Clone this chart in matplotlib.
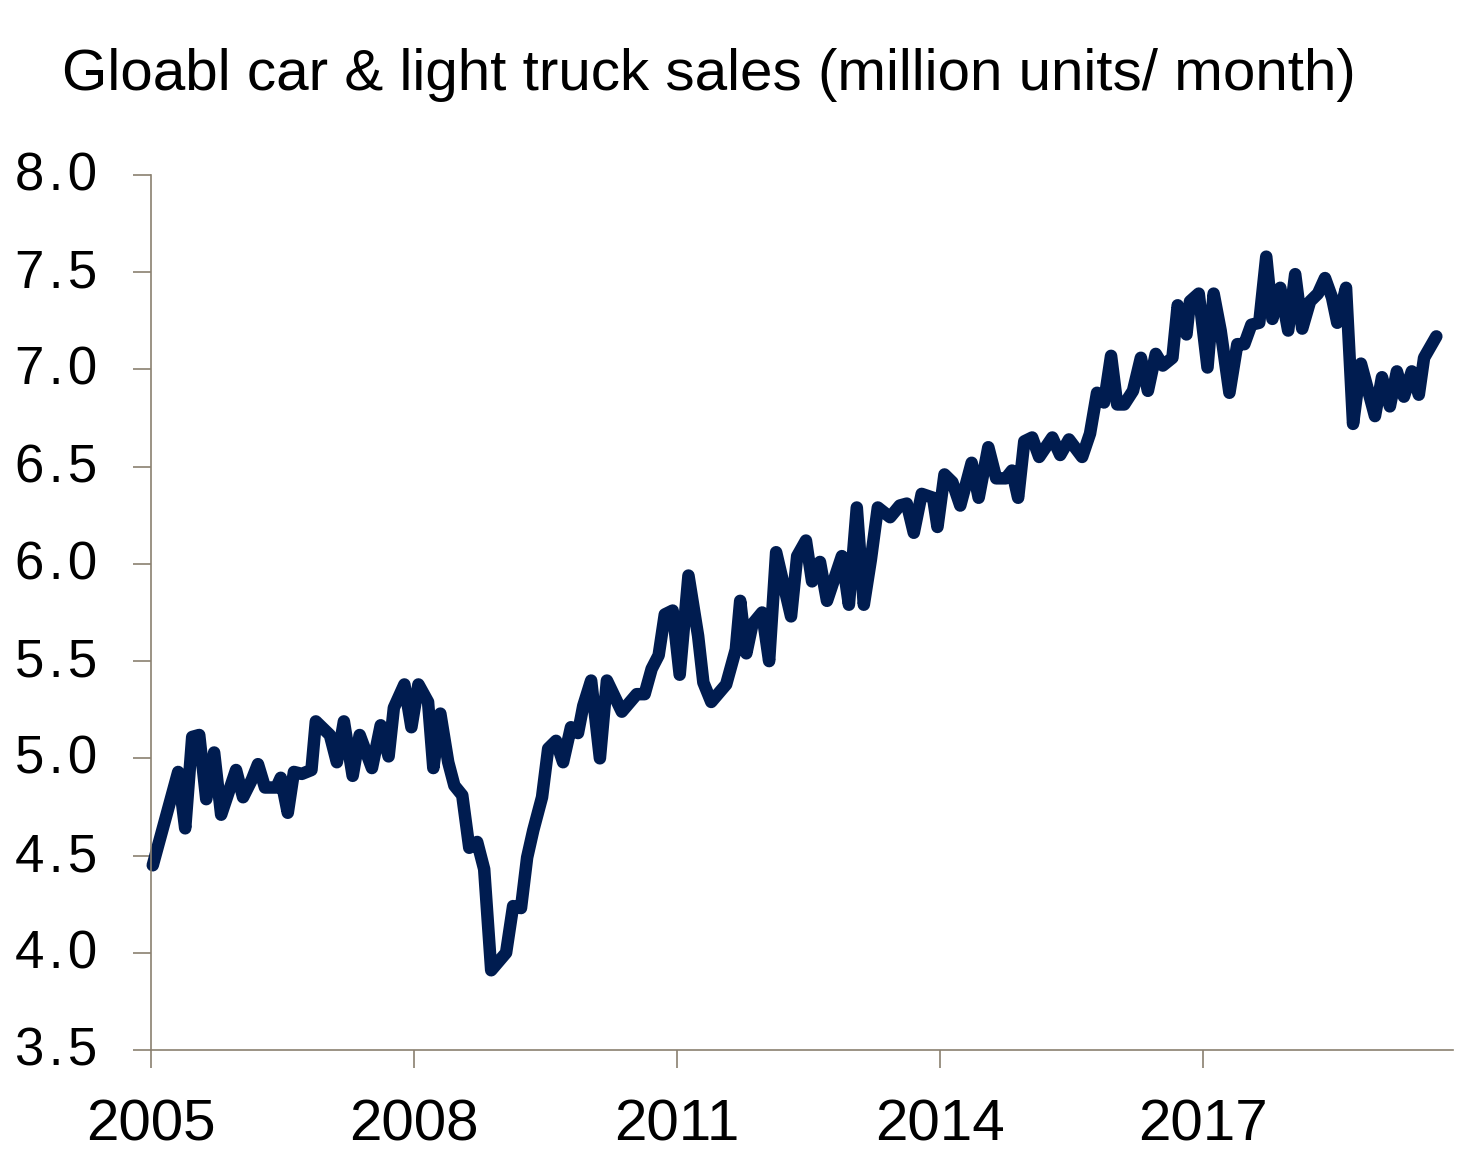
import matplotlib
matplotlib.use("Agg")
from matplotlib import pyplot as plt
from matplotlib.transforms import ScaledTranslation

plt.rcParams["font.family"] = ["Liberation Sans", "DejaVu Sans"]

# turning points of the monthly series (decimal year, million units/month)
years = [
    2005.02, 2005.31, 2005.39, 2005.47, 2005.55, 2005.63, 2005.72, 2005.80,
    2005.97, 2006.05, 2006.15, 2006.22, 2006.30, 2006.43, 2006.48, 2006.56,
    2006.63, 2006.72, 2006.83, 2006.88, 2007.04, 2007.12, 2007.20, 2007.30,
    2007.38, 2007.52, 2007.62, 2007.71, 2007.77, 2007.89, 2007.97, 2008.05,
    2008.16, 2008.22, 2008.30, 2008.39, 2008.46, 2008.55, 2008.63, 2008.72,
    2008.80, 2008.88, 2009.05, 2009.13, 2009.22, 2009.29, 2009.36, 2009.46,
    2009.53, 2009.62, 2009.70, 2009.79, 2009.87, 2009.93, 2010.02, 2010.12,
    2010.20, 2010.37, 2010.54, 2010.63, 2010.71, 2010.79, 2010.86, 2010.95,
    2011.03, 2011.13, 2011.24, 2011.30, 2011.39, 2011.56, 2011.67, 2011.72,
    2011.79, 2011.86, 2011.97, 2012.05, 2012.13, 2012.30, 2012.37, 2012.47,
    2012.54, 2012.63, 2012.71, 2012.88, 2012.96, 2013.05, 2013.13, 2013.21,
    2013.29, 2013.43, 2013.54, 2013.62, 2013.70, 2013.79, 2013.92, 2013.97,
    2014.05, 2014.14, 2014.23, 2014.36, 2014.44, 2014.55, 2014.64, 2014.75,
    2014.82, 2014.89, 2014.96, 2015.05, 2015.13, 2015.28, 2015.37, 2015.47,
    2015.62, 2015.71, 2015.79, 2015.87, 2015.95, 2016.02, 2016.10, 2016.20,
    2016.29, 2016.37, 2016.46, 2016.54, 2016.65, 2016.71, 2016.81, 2016.85,
    2016.95, 2017.05, 2017.12, 2017.20, 2017.30, 2017.39, 2017.47, 2017.55,
    2017.64, 2017.72, 2017.79, 2017.88, 2017.97, 2018.05, 2018.13, 2018.22,
    2018.31, 2018.39, 2018.47, 2018.53, 2018.63, 2018.71, 2018.80, 2018.96,
    2019.04, 2019.13, 2019.21, 2019.29, 2019.38, 2019.46, 2019.52, 2019.66,
]
sales = [
    4.45, 4.93, 4.64, 5.11, 5.12, 4.79, 5.03, 4.71,
    4.94, 4.80, 4.89, 4.97, 4.85, 4.85, 4.90, 4.72,
    4.93, 4.92, 4.94, 5.19, 5.12, 4.98, 5.19, 4.91,
    5.12, 4.95, 5.17, 5.01, 5.26, 5.38, 5.16, 5.38,
    5.29, 4.95, 5.23, 4.98, 4.86, 4.81, 4.54, 4.57,
    4.43, 3.91, 4.00, 4.24, 4.23, 4.49, 4.63, 4.80,
    5.05, 5.09, 4.98, 5.16, 5.13, 5.27, 5.40, 5.00,
    5.40, 5.24, 5.33, 5.33, 5.46, 5.53, 5.74, 5.76,
    5.43, 5.94, 5.63, 5.39, 5.29, 5.38, 5.56, 5.81,
    5.54, 5.69, 5.75, 5.50, 6.06, 5.73, 6.04, 6.12,
    5.91, 6.01, 5.81, 6.04, 5.79, 6.29, 5.79, 6.02,
    6.29, 6.24, 6.30, 6.31, 6.16, 6.36, 6.34, 6.19,
    6.46, 6.42, 6.30, 6.52, 6.34, 6.60, 6.44, 6.44,
    6.48, 6.34, 6.63, 6.65, 6.55, 6.65, 6.56, 6.64,
    6.55, 6.67, 6.88, 6.83, 7.07, 6.82, 6.82, 6.89,
    7.06, 6.89, 7.08, 7.02, 7.06, 7.33, 7.18, 7.35,
    7.39, 7.01, 7.39, 7.20, 6.88, 7.13, 7.13, 7.23,
    7.24, 7.58, 7.26, 7.42, 7.20, 7.49, 7.21, 7.35,
    7.39, 7.47, 7.37, 7.24, 7.42, 6.72, 7.03, 6.76,
    6.96, 6.81, 6.99, 6.86, 6.99, 6.87, 7.06, 7.17,
]

xticks = [2005, 2008, 2011, 2014, 2017]
yticks = [3.5, 4.0, 4.5, 5.0, 5.5, 6.0, 6.5, 7.0, 7.5, 8.0]
title = "Gloabl car & light truck sales (million units/ month)"

W, H = 1474, 1170
fig = plt.figure(figsize=(W / 100, H / 100), dpi=100)
ax = fig.add_axes([151 / W, 1 - 1050 / H, (1453 - 151) / W, (1050 - 175) / H])

ax.plot(years, sales, color="#001c50", lw=9, solid_joinstyle="round",
        solid_capstyle="round", clip_on=False)

ax.set_xlim(2005, 2019.85)
ax.set_ylim(3.5, 8.0)
ax.set_xticks(xticks)
ax.set_xticklabels([str(t) for t in xticks], fontsize=42)
ax.set_yticks(yticks)
# the source spaces its axis digits out a little
ax.set_yticklabels(["\u200a".join(f"{t:.1f}") for t in yticks], fontsize=38)

spine_col = "#8a8070"
for s in ["top", "right"]:
    ax.spines[s].set_visible(False)
for s in ["left", "bottom"]:
    ax.spines[s].set_color(spine_col)
    ax.spines[s].set_linewidth(1.2)
ax.tick_params(axis="both", color=spine_col, width=1.2, length=13,
               direction="out")
ax.tick_params(axis="y", pad=26)
ax.tick_params(axis="x", pad=22)

shift = ScaledTranslation(0, 4 / 100, fig.dpi_scale_trans)
for lab in ax.get_yticklabels():
    lab.set_transform(lab.get_transform() + shift)

fig.text(62 / W, 1 - 75 / H, title, fontsize=42, va="center", ha="left")

plt.savefig("out.png", dpi=100)
